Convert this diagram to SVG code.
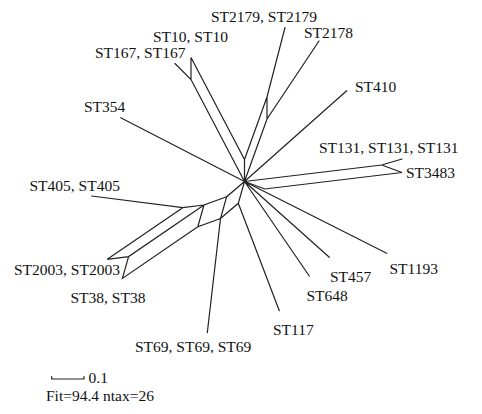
<svg xmlns="http://www.w3.org/2000/svg" width="482" height="414" viewBox="0 0 482 414">
<style>
text{font-family:"Liberation Serif","Times New Roman",serif;font-size:15.5px;fill:#111}
.e{stroke:#222;stroke-width:1.2;fill:none;stroke-linecap:round}
</style>
<rect width="482" height="414" fill="#fff"/>
<g id="connectors">
<path class="e" d="M244.5,181.5 L244.5,159.5 M244.5,159.5 L191,57.5 L191,79.5 M244.5,181.5 L191,79.5 L175,63.5 M244.5,159.5 L267,97 L267,119 M244.5,181.5 L267,119 L319,41 M267,97 L285,27.5"/>
<path class="e" d="M244.5,181.5 L120.7,117.7 M244.5,181.5 L346.7,90.7 M244.5,181.5 L381.7,165 L402,159 M381.7,165 L402,172.5 L264.8,189 L244.5,181.5"/>
<path class="e" d="M244.5,181.5 L386.7,253.3 M244.5,181.5 L329.3,257.3 M244.5,181.5 L309.3,276"/>
<path class="e" d="M244.5,181.5 L226.7,196.7 L220.5,218.5 L238.3,203.3 L244.5,181.5 M238.3,203.3 L279.3,310.7 M220.5,218.5 L207.3,332.7"/>
<path class="e" d="M226.7,196.7 L204,205 L197.8,226.8 L220.5,218.5 M204,205 L182.7,207.7 L91.7,196 M182.7,207.7 L107.3,259.3 L128.6,256.6 L204,205 M128.6,256.6 L122.4,278.4 L197.8,226.8"/>
</g>
<g id="n-ST2179"><text x="211" y="22">ST2179, ST2179</text></g>
<g id="n-ST10"><text x="153" y="42">ST10, ST10</text></g>
<g id="n-ST167"><text x="95" y="57.5">ST167, ST167</text></g>
<g id="n-ST2178"><text x="304" y="38">ST2178</text></g>
<g id="n-ST354"><text x="84" y="112">ST354</text></g>
<g id="n-ST410"><text x="355" y="92">ST410</text></g>
<g id="n-ST131"><text x="319" y="153">ST131, ST131, ST131</text></g>
<g id="n-ST3483"><text x="406" y="178">ST3483</text></g>
<g id="n-ST405"><text x="29.5" y="190.5">ST405, ST405</text></g>
<g id="n-ST2003"><text x="14" y="274.5">ST2003, ST2003</text></g>
<g id="n-ST38"><text x="70.5" y="303">ST38, ST38</text></g>
<g id="n-ST457"><text x="330" y="281.5">ST457</text></g>
<g id="n-ST1193"><text x="389.5" y="274">ST1193</text></g>
<g id="n-ST648"><text x="306.5" y="300.5">ST648</text></g>
<g id="n-ST117"><text x="273" y="334.5">ST117</text></g>
<g id="n-ST69"><text x="135" y="352">ST69, ST69, ST69</text></g>
<g id="scale">
<path class="e" d="M51.7,376.5 L51.7,379 L84,379 L84,376.5"/>
<text x="88.5" y="383">0.1</text>
<text x="46" y="401">Fit=94.4 ntax=26</text>
</g>
</svg>
